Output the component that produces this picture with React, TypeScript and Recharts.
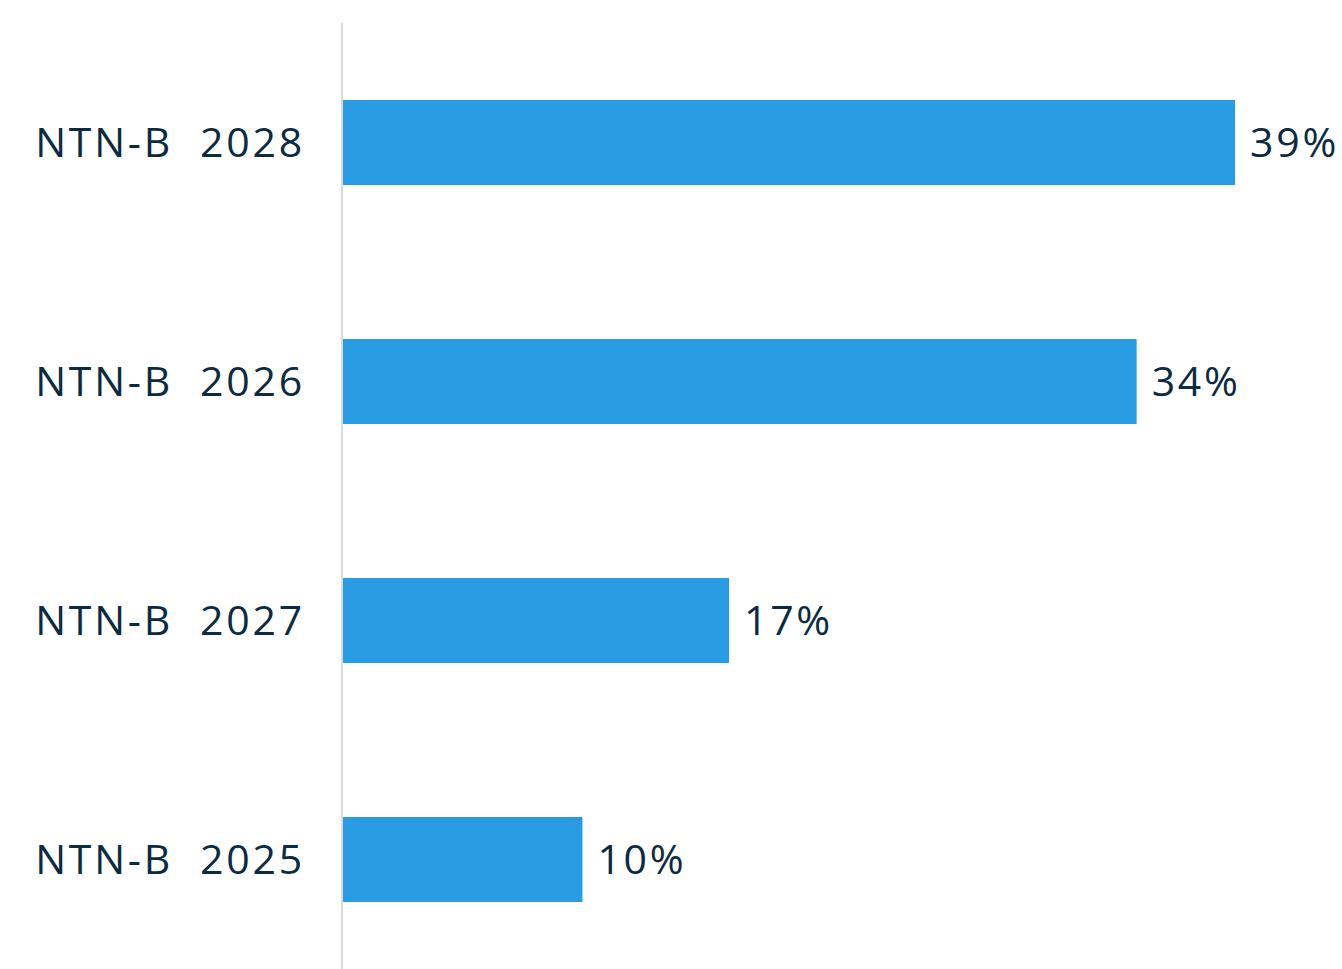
import { Bar, BarChart, LabelList, XAxis, YAxis } from 'recharts'

const categories = ['NTN-B  2028', 'NTN-B  2026', 'NTN-B  2027', 'NTN-B  2025']
const shares = [39, 34.7, 16.9, 10.5]
const shareLabels = ['39%', '34%', '17%', '10%']

const data = categories.map((name, i) => ({ name, share: shares[i], label: shareLabels[i] }))

const TEXT = '#0c2a40'
const BLUE = '#299be2'
const FONT = '"Open Sans", sans-serif'

function CategoryTick({ x, y, payload }: any) {
  return (
    <text
      x={x}
      y={y}
      dy={14}
      textAnchor="end"
      fill={TEXT}
      fontSize={41}
      fontFamily={FONT}
      letterSpacing={2.8}
      style={{ whiteSpace: 'pre' }}
    >
      {payload.value}
    </text>
  )
}

export default function App() {
  return (
    <div
      style={{
        position: 'absolute',
        top: 0,
        left: 0,
        width: 1342,
        height: 969,
        overflow: 'hidden',
        background: '#ffffff',
      }}
    >
      <BarChart
        width={1342}
        height={979}
        data={data}
        layout="vertical"
        margin={{ top: 23, right: 84, left: 0, bottom: 0 }}
      >
        <XAxis type="number" domain={[0, 40]} hide />
        <YAxis
          type="category"
          dataKey="name"
          width={342}
          axisLine={{ stroke: '#d9d9d9', strokeWidth: 2 }}
          tickLine={false}
          tickSize={0}
          tickMargin={37}
          tick={<CategoryTick />}
        />
        <Bar dataKey="share" fill={BLUE} barSize={85} isAnimationActive={false}>
          <LabelList
            dataKey="label"
            position="right"
            offset={15}
            fill={TEXT}
            fontSize={41}
            fontFamily={FONT}
            letterSpacing={2.7}
          />
        </Bar>
      </BarChart>
    </div>
  )
}
